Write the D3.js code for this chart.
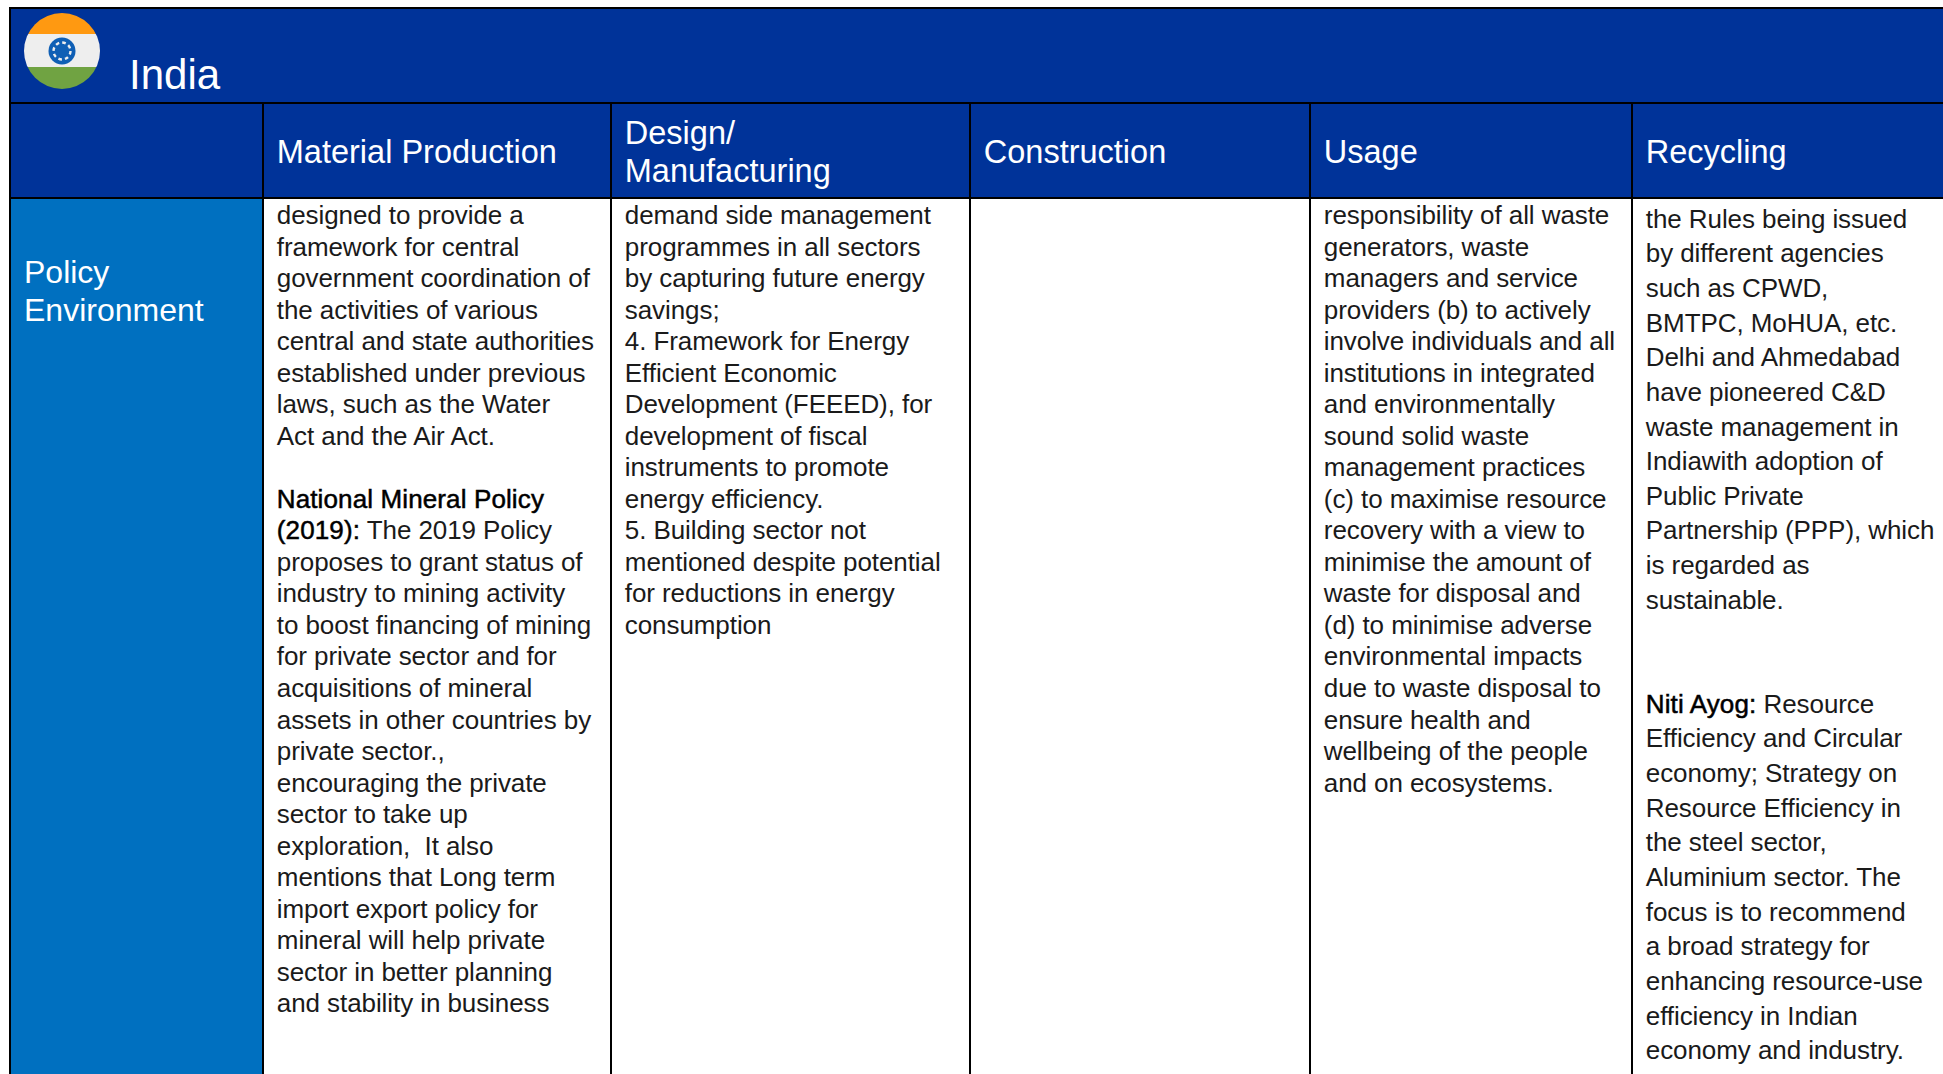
<!DOCTYPE html>
<html lang="en">

<head>
    <meta charset="UTF-8">
    <title>India</title>
    <style>
        body {
            padding: 0px;
            margin: 0px;
            background-color: white;
            overflow: hidden;
        }

        text {
            font-family: "Liberation Sans", Arial, sans-serif;
        }
    </style>
</head>

<body>
    <div id="svg"></div>
    <script src="https://cdn.jsdelivr.net/npm/d3@7"></script>
    <script>
        const title = 'India'
        const rowLabel = ['Policy', 'Environment']
        const columns = ['', 'Material Production', 'Design/\nManufacturing', 'Construction', 'Usage', 'Recycling']

        // a line starting with ** has a bold run up to the next **
        const materialLines = [
            'designed to provide a',
            'framework for central',
            'government coordination of',
            'the activities of various',
            'central and state authorities',
            'established under previous',
            'laws, such as the Water',
            'Act and the Air Act.',
            '',
            '**National Mineral Policy**',
            '**(2019):** The 2019 Policy',
            'proposes to grant status of',
            'industry to mining activity',
            'to boost financing of mining',
            'for private sector and for',
            'acquisitions of mineral',
            'assets in other countries by',
            'private sector.,',
            'encouraging the private',
            'sector to take up',
            'exploration,  It also',
            'mentions that Long term',
            'import export policy for',
            'mineral will help private',
            'sector in better planning',
            'and stability in business'
        ]
        const designLines = [
            'demand side management',
            'programmes in all sectors',
            'by capturing future energy',
            'savings;',
            '4. Framework for Energy',
            'Efficient Economic',
            'Development (FEEED), for',
            'development of fiscal',
            'instruments to promote',
            'energy efficiency.',
            '5. Building sector not',
            'mentioned despite potential',
            'for reductions in energy',
            'consumption'
        ]
        const usageLines = [
            'responsibility of all waste',
            'generators, waste',
            'managers and service',
            'providers (b) to actively',
            'involve individuals and all',
            'institutions in integrated',
            'and environmentally',
            'sound solid waste',
            'management practices',
            '(c) to maximise resource',
            'recovery with a view to',
            'minimise the amount of',
            'waste for disposal and',
            '(d) to minimise adverse',
            'environmental impacts',
            'due to waste disposal to',
            'ensure health and',
            'wellbeing of the people',
            'and on ecosystems.'
        ]
        const recyclingLines = [
            'the Rules being issued',
            'by different agencies',
            'such as CPWD,',
            'BMTPC, MoHUA, etc.',
            'Delhi and Ahmedabad',
            'have pioneered C&D',
            'waste management in',
            'Indiawith adoption of',
            'Public Private',
            'Partnership (PPP), which',
            'is regarded as',
            'sustainable.',
            '',
            '',
            '**Niti Ayog:** Resource',
            'Efficiency and Circular',
            'economy; Strategy on',
            'Resource Efficiency in',
            'the steel sector,',
            'Aluminium sector. The',
            'focus is to recommend',
            'a broad strategy for',
            'enhancing resource-use',
            'efficiency in Indian',
            'economy and industry.'
        ]

        const w = 1943
        const h = 1074

        // table grid
        const left = 10
        const top_ = 8
        const titleBottom = 103
        const headBottom = 198
        const columnEdges = [left, 263, 611, 970, 1310, 1632, w + 4]
        const xScale = d3.scaleOrdinal().domain(d3.range(7)).range(columnEdges)
        const textPad = 13.8

        const navy = '#003399'
        const side = '#0070c0'

        const svg = d3.select('#svg')
            .append('svg')
            .attr('width', w)
            .attr('height', h)
            .style('display', 'block')

        // backgrounds
        svg.append('rect').attr('x', left).attr('y', top_).attr('width', w - left).attr('height', headBottom - top_).attr('fill', navy)
        svg.append('rect').attr('x', left).attr('y', headBottom).attr('width', xScale(1) - left).attr('height', h - headBottom).attr('fill', side)

        // borders
        const hLines = [top_, titleBottom, headBottom]
        svg.selectAll('.hline')
            .data(hLines)
            .enter()
            .append('line')
            .attr('class', 'hline')
            .attr('x1', left - 1).attr('x2', w)
            .attr('y1', d => d).attr('y2', d => d)
            .attr('stroke', '#000').attr('stroke-width', 2)

        svg.selectAll('.vline')
            .data(d3.range(6))
            .enter()
            .append('line')
            .attr('class', 'vline')
            .attr('x1', d => xScale(d)).attr('x2', d => xScale(d))
            .attr('y1', d => d === 0 ? top_ - 1 : titleBottom).attr('y2', h)
            .attr('stroke', '#000').attr('stroke-width', 2)

        // flag
        const flagX = 62
        const flagY = 51
        const flagR = 38
        const defs = svg.append('defs')
        defs.append('clipPath').attr('id', 'flag-clip')
            .append('circle').attr('cx', flagX).attr('cy', flagY).attr('r', flagR)
        const flag = svg.append('g').attr('clip-path', 'url(#flag-clip)')
        const bands = [['#ff9911', flagY - flagR, 21], ['#eeeeee', flagY - flagR + 21, 33], ['#70a342', flagY - flagR + 54, 22]]
        flag.selectAll('rect')
            .data(bands)
            .enter()
            .append('rect')
            .attr('x', flagX - flagR).attr('width', flagR * 2)
            .attr('y', d => d[1]).attr('height', d => d[2])
            .attr('fill', d => d[0])
        flag.append('circle').attr('cx', flagX).attr('cy', flagY).attr('r', 13.5).attr('fill', '#0f5fb5')
        flag.append('circle').attr('cx', flagX).attr('cy', flagY).attr('r', 8.5)
            .attr('fill', 'none').attr('stroke', '#eeeeee').attr('stroke-width', 2.4)
            .attr('stroke-dasharray', '3.6 3.07')

        // white header text
        svg.append('text').attr('x', 129).attr('y', 89).attr('fill', 'white').attr('font-size', 42).text(title)

        svg.selectAll('.row-label')
            .data(rowLabel)
            .enter()
            .append('text')
            .attr('class', 'row-label')
            .attr('x', 24)
            .attr('y', (d, i) => 283 + i * 37.5)
            .attr('fill', 'white')
            .attr('font-size', 32)
            .text(d => d)

        columns.forEach((c, i) => {
            const parts = c.split('\n').filter(p => p)
            const y0 = parts.length > 1 ? 144 : 163
            svg.selectAll('.head-' + i)
                .data(parts)
                .enter()
                .append('text')
                .attr('class', 'head-' + i)
                .attr('x', xScale(i) + textPad)
                .attr('y', (d, j) => y0 + j * 37.5)
                .attr('fill', 'white')
                .attr('font-size', 32.5)
                .text(d => d)
        })

        // body text, one scale per spacing
        const bodySize = 26
        const tightY = d3.scaleLinear().domain([0, 25]).range([224.2, 224.2 + 25 * 31.52])
        const looseY = d3.scaleLinear().domain([0, 24]).range([227.6, 227.6 + 24 * 34.65])

        function drawBody(lines, colIndex, yScale) {
            const rows = svg.append('g')
                .selectAll('text')
                .data(lines)
                .enter()
                .append('text')
                .attr('x', xScale(colIndex) + textPad)
                .attr('y', (d, i) => yScale(i))
                .attr('fill', '#1a1a1a')
                .attr('font-size', bodySize)
                .attr('letter-spacing', -0.08)
                .attr('xml:space', 'preserve')

            rows.selectAll('tspan')
                .data(d => d.split('**').map((t, k) => ({ t: t, bold: k % 2 === 1 })).filter(r => r.t))
                .enter()
                .append('tspan')
                .attr('fill', d => d.bold ? '#000' : '#1a1a1a')
                .attr('stroke', d => d.bold ? '#000' : 'none')
                .attr('stroke-width', d => d.bold ? 0.5 : 0)
                .attr('letter-spacing', d => d.bold ? 0.12 : -0.08)
                .text(d => d.t)
        }

        drawBody(materialLines, 1, tightY)
        drawBody(designLines, 2, tightY)
        drawBody(usageLines, 4, tightY)
        drawBody(recyclingLines, 5, looseY)
    </script>
</body>

</html>
